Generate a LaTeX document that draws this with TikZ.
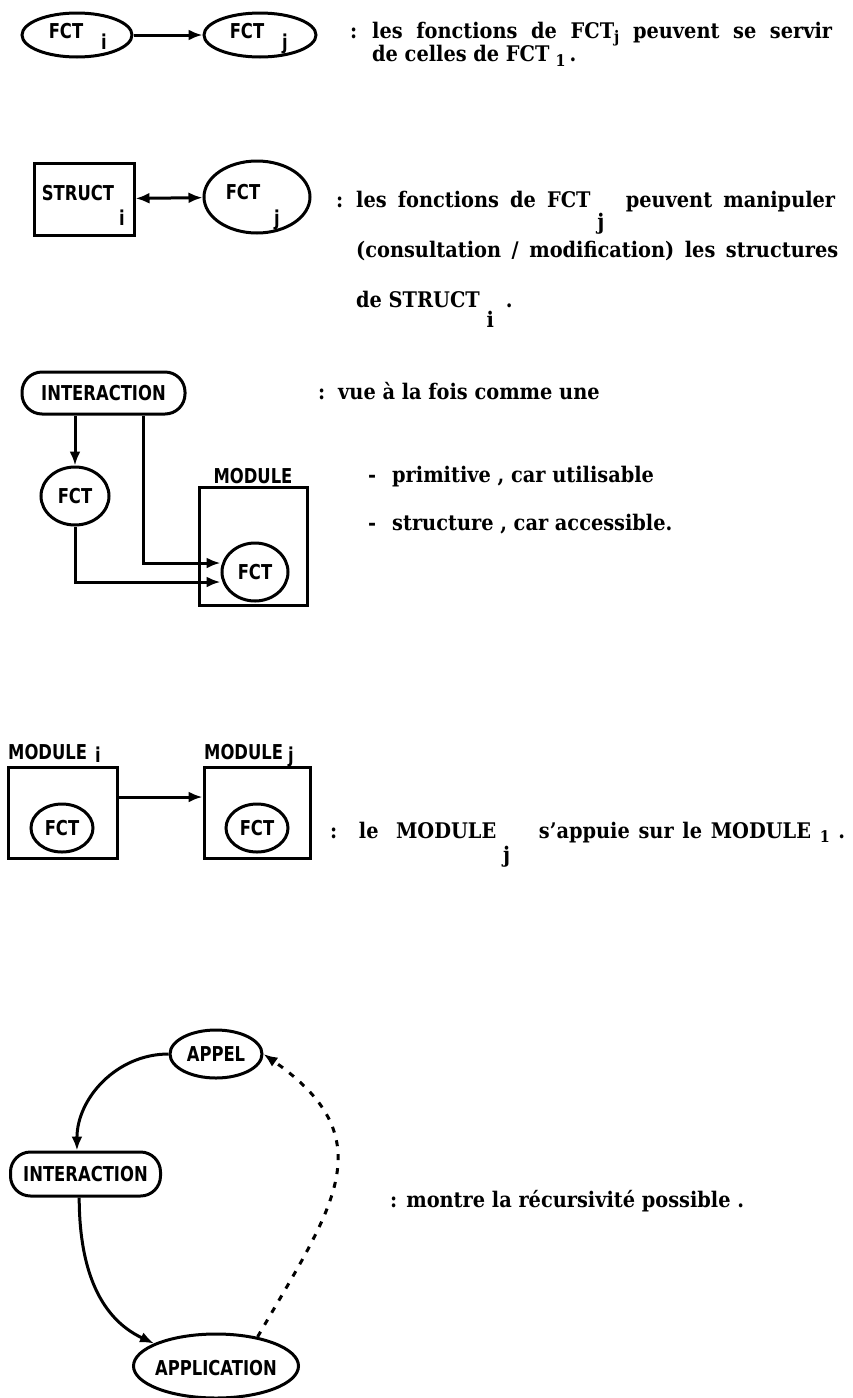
\documentclass[tikz,border=0pt]{standalone}
\usepackage{fontspec}
\setmainfont{DejaVu Serif Condensed}
\newfontfamily\labfont[FakeStretch=0.8]{DejaVu Sans}
\usetikzlibrary{shapes.geometric,arrows.meta}
\tikzset{
  ell/.style={ellipse, draw, line width=3pt, inner sep=0pt},
  sqbox/.style={rectangle, draw, line width=3pt, inner sep=0pt},
  rbox/.style={rectangle, rounded corners=20pt, draw, line width=3pt, inner sep=0pt},
  lab/.style={font=\labfont\bfseries\fontsize{20.5}{20.5}\selectfont, inner sep=0pt},
  txt/.style={font=\bfseries\fontsize{21.5}{21.5}\selectfont, inner sep=0pt, anchor=base west},
  arr/.style={line width=3pt, -{Latex[length=14pt,width=11pt]}},
  darr/.style={line width=3pt, {Latex[length=14pt,width=11pt]}-{Latex[length=14pt,width=11pt]}},
  dotarr/.style={line width=3pt, dash pattern=on 6pt off 8pt, -{Latex[length=14pt,width=11pt]}},
}
\newcommand{\lowsub}[2]{\rlap{\raisebox{#1}{#2}}}
\begin{document}
\begin{tikzpicture}[x=1pt,y=-1pt]
\useasboundingbox (0,0) rectangle (852,1398);
\fill[white] (0,0) rectangle (852,1398);

% ---------- Row 1
\node[ell, minimum width=110pt, minimum height=44pt] (fi) at (77,35) {};
\node[lab] (fil) at (66,31) {FCT};
\node[lab, anchor=base] (fis) at (104,49) {i};
\node[ell, minimum width=112pt, minimum height=44pt] (fj) at (260,35) {};
\node[lab] (fjl) at (247,31) {FCT};
\node[lab, anchor=base] (fjs) at (285,49) {j};
\draw[arr] (fi) -- (fj);
\node[txt] (c1) at (350,38) {:};
\node[txt] (t1a) at (372,38) {\makebox[460pt][s]{les fonctions de FCT\raisebox{-4pt}{\fontsize{16}{16}\selectfont j} peuvent se servir}};
\node[txt] (t1b) at (372,61) {de celles de FCT\hspace{6pt}\raisebox{-5pt}{\fontsize{16}{16}\selectfont 1}\hspace{4pt}.};

% ---------- Row 2
\node[sqbox, minimum width=100pt, minimum height=72pt] (st) at (84,199) {};
\node[lab] (stl) at (78,193) {STRUCT};
\node[lab, anchor=base] (sts) at (122,225) {i};
\node[ell, minimum width=106pt, minimum height=72pt] (f2) at (257,197) {};
\node[lab] (f2l) at (243,192) {FCT};
\node[lab, anchor=base] (f2s) at (277,225) {j};
\draw[darr] (st) -- (f2);
\node[txt] (c2) at (336,207) {:};
\node[txt] (t2a) at (356,207) {\makebox[479pt][s]{les fonctions de FCT\lowsub{-22pt}{\ j}\hspace{24pt} peuvent manipuler}};
\node[txt] (t2b) at (356,257) {\makebox[482pt][s]{(consultation / modification) les structures}};
\node[txt] (t2c) at (356,307) {de STRUCT\lowsub{-20pt}{\ i}\hspace{26pt}.};

% ---------- Row 3
\node[rbox, minimum width=163pt, minimum height=42pt] (int1) at (103.5,393) {};
\node[lab] (int1l) at (103.5,393) {INTERACTION};
\node[ell, minimum width=68pt, minimum height=58pt] (fa) at (75,496) {};
\node[lab] (fal) at (75,496) {FCT};
\node[lab] (modl) at (253,476) {MODULE};
\node[sqbox, minimum width=108pt, minimum height=118pt] (mod) at (253,546) {};
\node[ell, minimum width=66pt, minimum height=58pt] (fb) at (255,572) {};
\node[lab] (fbl) at (255,572) {FCT};
\coordinate (k1) at (143,563);
\coordinate (k2) at (75,582);
\draw[arr] (int1.south -| fa) -- (fa.north);
\draw[arr] (int1.south -| k1) -- (k1) -- (k1 -| fb.west);
\draw[arr] (fa.south) -- (k2) -- (k2 -| fb.west);
\node[txt] (c3) at (318,399) {:};
\node[txt] (t3a) at (338,399) {vue à la fois comme une};
\node[txt] (d3b) at (368,482) {-};
\node[txt] (t3b) at (392,482) {primitive , car utilisable};
\node[txt] (d3c) at (368,530) {-};
\node[txt] (t3c) at (392,530) {structure , car accessible.};

% ---------- Row 4
\node[lab, anchor=base west] (mil) at (8,759) {MODULE\hspace{8pt}\raisebox{-3pt}{i}};
\node[lab, anchor=base west] (mjl) at (204,759) {MODULE\hspace{5pt}\raisebox{-3pt}{j}};
\node[sqbox, minimum width=109pt, minimum height=91pt] (mi) at (62.5,812.5) {};
\node[sqbox, minimum width=106pt, minimum height=91pt] (mj) at (257,812.5) {};
\node[ell, minimum width=62pt, minimum height=48pt] (fmi) at (62,828) {};
\node[lab] (fmil) at (62,828) {FCT};
\node[ell, minimum width=62pt, minimum height=48pt] (fmj) at (257,828) {};
\node[lab] (fmjl) at (257,828) {FCT};
\coordinate (k3) at (117,797);
\draw[arr] (k3) -- (k3 -| mj.west);
\node[txt] (t4) at (330,838) {\makebox[515pt][s]{: \ le \ MODULE\lowsub{-24pt}{\ j}\hspace{34pt} s'appuie sur le MODULE \raisebox{-4pt}{\fontsize{16}{16}\selectfont 1} .}};

% ---------- Row 5
\node[ell, minimum width=92pt, minimum height=48pt] (ap) at (216,1054) {};
\node[lab] (apl) at (216,1054) {APPEL};
\node[rbox, minimum width=150pt, minimum height=44pt] (int2) at (85.5,1174) {};
\node[lab] (int2l) at (85.5,1174) {INTERACTION};
\node[ell, minimum width=165pt, minimum height=64pt] (app) at (216,1366) {};
\node[lab] (appl) at (216,1368) {APPLICATION};
\draw[arr] (ap.west) to[out=180,in=90] (int2.110);
\draw[arr] (int2.255) to[out=-90,in=155] (app.160);
\draw[dotarr] (app.35) to[out=60,in=-35,looseness=1.35] (ap.east);
\node[txt] (t5) at (390,1207) {: montre la récursivité possible .};
\end{tikzpicture}
\end{document}
